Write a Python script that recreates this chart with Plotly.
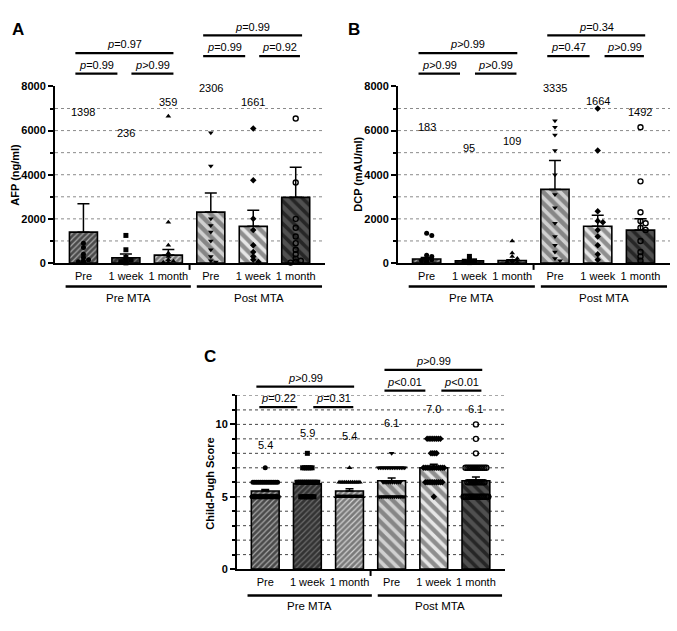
import plotly.graph_objects as go

W, H = 677, 631
FONT = "Liberation Sans, Arial, sans-serif"

# ---------------- data ----------------
categories = ["Pre", "1 week", "1 month", "Pre", "1 week", "1 month"]
groups = ["Pre MTA", "Post MTA"]

afp_mean = [1398, 236, 359, 2306, 1661, 2975]
afp_sem = [1282, 177, 250, 864, 729, 1365]
dcp_mean = [183, 95, 109, 3335, 1664, 1492]
dcp_sem = [70, 30, 40, 1315, 496, 518]
cp_mean = [5.4, 5.9, 5.4, 6.1, 7.0, 6.1]
cp_sem = [0.10, 0.12, 0.15, 0.20, 0.25, 0.27]

afp_pre = [900, 700, 400, 250, 150, 90, 60, 40, 20]
afp_1wk = [1250, 600, 250, 150, 100, 60, 40, 20, 10]
afp_1mo = [6650, 1850, 800, 450, 300, 150, 80, 40, 20, 10]
afp_post_pre = [5900, 4400, 2000, 1700, 1400, 1000, 600, 300, 100, 50]
afp_post_1wk = [6100, 3750, 2000, 1500, 800, 500, 300, 150, 50]
afp_post_1mo = [6550, 3650, 2000, 1600, 1200, 900, 600, 400, 200, 100, 50, 20]

dcp_pre = [1350, 1250, 350, 300, 200, 150, 100, 80, 60, 40, 20]
dcp_1wk = [300, 150, 100, 80, 50, 30, 20]
dcp_1mo = [1000, 450, 300, 200, 100, 60, 30, 10]
dcp_post_pre = [6450, 6150, 5800, 5100, 4000, 3100, 2500, 1800, 1200, 800, 500, 200, 100]
dcp_post_1wk = [7000, 5100, 2350, 1900, 1850, 1500, 1200, 800, 400, 150]
dcp_post_1mo = [6150, 3700, 2300, 1900, 1800, 1600, 1500, 1000, 500, 300, 100]

# Child-Pugh: score -> number of patients
cp_pre = {7: 1, 6: 14, 5: 30}
cp_1wk = {8: 1, 7: 6, 6: 12, 5: 8}
cp_1mo = {7: 1, 6: 12, 5: 30}
cp_post_pre = {8: 1, 7: 16, 6: 10, 5: 14}
cp_post_1wk = {9: 8, 8: 4, 7: 12, 6: 10, 5: 1}
cp_post_1mo = {10: 1, 9: 1, 8: 1, 7: 12, 6: 10, 5: 14}

afp_p = ["=0.97", "=0.99", ">0.99", "=0.99", "=0.99", "=0.92"]
dcp_p = [">0.99", ">0.99", ">0.99", "=0.34", "=0.47", ">0.99"]
cp_p = [">0.99", "=0.22", "=0.31", ">0.99", "&lt;0.01", "&lt;0.01"]

# ---------------- styling / layout ----------------
def py(p):
    return 1 - p / H

symbols = ["circle", "square", "triangle-up", "triangle-down", "diamond", "circle-open"]
bar_bg = ["#4a4a4a", "#333333", "#7a7a7a", "#868686", "#8e8e8e", "#505050"]
bar_fg = ["#a8a8a8", "#6c6c6c", "#d4d4d4", "#d0d0d0", "#e6e6e6", "#262626"]
bar_shape = ["/", "/", "/", "\\", "\\", "\\"]
bar_size = [4, 4, 4, 8, 8, 8]
bar_sol = [0.3, 0.3, 0.3, 0.45, 0.45, 0.45]

panels = [
    dict(name="A", mean=afp_mean, sem=afp_sem,
         pts=[afp_pre, afp_1wk, afp_1mo, afp_post_pre, afp_post_1wk, afp_post_1mo],
         pv=afp_p, title="AFP (ng/ml)", fmt="{:d}",
         xd=(55, 325), yd=(82, 262), yr=(0, 8000), dtick=2000, minor=1000,
         grid=[1000, 2000, 3000, 4000, 5000, 6000, 7000], gridcol="#8a8a8a",
         lab_y=[6850, 5900, 7300, 7950, 7300, 8270],
         letter=(18, 24), ttl=(15, 172),
         br=[(-0.19, 2.12, 48), (-0.19, 0.80, 69), (1.13, 2.12, 69),
             (2.82, 5.15, 30), (2.82, 3.81, 51), (4.14, 5.10, 51)],
         gl_y=286, glab_y=298),
    dict(name="B", mean=dcp_mean, sem=dcp_sem,
         pts=[dcp_pre, dcp_1wk, dcp_1mo, dcp_post_pre, dcp_post_1wk, dcp_post_1mo],
         pv=dcp_p, title="DCP (mAU/ml)", fmt="{:d}",
         xd=(398, 670), yd=(82, 262), yr=(0, 8000), dtick=2000, minor=1000,
         grid=[1000, 2000, 3000, 4000, 5000, 6000, 7000], gridcol="#8a8a8a",
         lab_y=[6180, 5200, 5510, 7950, 7330, 6840],
         letter=(354, 24), ttl=(358, 172),
         br=[(-0.19, 2.12, 48), (-0.19, 0.78, 69), (1.13, 2.10, 69),
             (2.82, 5.11, 30), (2.82, 3.81, 51), (4.16, 5.08, 51)],
         gl_y=286, glab_y=298),
    dict(name="C", mean=cp_mean, sem=cp_sem,
         pts=[cp_pre, cp_1wk, cp_1mo, cp_post_pre, cp_post_1wk, cp_post_1mo],
         pv=cp_p, title="Child-Pugh Score", fmt="{:.1f}",
         xd=(237, 505), yd=(397, 574), yr=(0, 12), dtick=5, minor=1,
         grid=list(range(1, 13)), gridcol="#444444",
         lab_y=[8.6, 9.4, 9.2, 10.1, 11.05, 11.05],
         letter=(210, 357), ttl=(210, 487),
         br=[(-0.21, 2.11, 388), (-0.14, 0.76, 409), (1.14, 2.09, 409),
             (2.83, 5.15, 371), (2.83, 3.80, 392), (4.18, 5.13, 392)],
         gl_y=601, glab_y=612),
]

XR = [-0.67, 5.69]


def swarm(vals, ypu, xpu, d=0.06, r=3.2, maxk=3):
    placed, offs = [], []
    for v in vals:
        yp = v * ypu
        cands = [0.0]
        for i in range(1, maxk + 1):
            cands += [i * d, -i * d]
        chosen = 0.0
        for c in cands:
            if all(not (abs(pv - yp) < r and abs(pc - c) * xpu < r) for pc, pv in placed):
                chosen = c
                break
        placed.append((chosen, yp))
        offs.append(chosen)
    return offs


fig = go.Figure()
shapes, annos = [], []
layout_axes = {}

for k, P in enumerate(panels):
    sfx = "" if k == 0 else str(k + 1)
    xa, ya = "x" + sfx, "y" + sfx
    x0, x1 = P["xd"]
    ytop, ybot = P["yd"]
    xpu = (x1 - x0) / (XR[1] - XR[0])
    ypu = (ybot - ytop) / (P["yr"][1] - P["yr"][0])

    for i in range(6):
        fig.add_trace(go.Bar(
            x=[i], y=[P["mean"][i]], width=0.66, xaxis=xa, yaxis=ya,
            marker=dict(color=bar_bg[i], line=dict(color="black", width=1.6),
                        pattern=dict(shape=bar_shape[i], fgcolor=bar_fg[i], bgcolor=bar_bg[i],
                                     fgopacity=1, size=bar_size[i], solidity=bar_sol[i],
                                     fillmode="replace")),
            error_y=dict(type="data", array=[P["sem"][i]], arrayminus=[0], symmetric=False,
                         color="black", thickness=1.5, width=6 if k < 2 else 4),
            showlegend=False, hoverinfo="skip"))

    for i, pts in enumerate(P["pts"]):
        if isinstance(pts, dict):
            xs, ys = [], []
            for score, n in pts.items():
                span = min(0.62, (n - 1) * 0.045)
                for j in range(n):
                    off = 0 if n == 1 else -span / 2 + span * j / (n - 1)
                    xs.append(i + off)
                    ys.append(score)
        else:
            offs = swarm(pts, ypu, xpu)
            xs = [i + o for o in offs]
            ys = pts
        fig.add_trace(go.Scatter(
            x=xs, y=ys, mode="markers", xaxis=xa, yaxis=ya, cliponaxis=False,
            marker=dict(symbol=symbols[i], size=5, color="black",
                        line=dict(color="black", width=1.4 if symbols[i] == "circle-open" else 0)),
            showlegend=False, hoverinfo="skip"))

    layout_axes["xaxis" + sfx] = dict(
        domain=[x0 / W, x1 / W], range=XR, anchor=ya, showline=True, linewidth=2,
        linecolor="black", ticks="", tickvals=list(range(6)), ticktext=categories,
        tickfont=dict(size=11, family=FONT, color="black"), ticklabelstandoff=2,
        showgrid=False, zeroline=False, fixedrange=True)
    layout_axes["yaxis" + sfx] = dict(
        domain=[1 - ybot / H, 1 - ytop / H], range=list(P["yr"]), anchor=xa,
        showline=True, linewidth=2, linecolor="black", ticks="outside", ticklen=5,
        tickwidth=2, tickcolor="black", tick0=0, dtick=P["dtick"],
        tickfont=dict(size=11, family=FONT, color="black", weight="bold"),
        minor=dict(dtick=P["minor"], ticks="outside", ticklen=3, tickwidth=1.5,
                   tickcolor="black", showgrid=False),
        showgrid=False, zeroline=False, fixedrange=True)

    for g in P["grid"]:
        shapes.append(dict(type="line", xref=xa + " domain", yref=ya, x0=0, x1=1, y0=g, y1=g,
                           line=dict(color=P["gridcol"], width=1, dash="dot"), layer="below"))
    shapes.append(dict(type="line", xref=xa, yref="paper", x0=2.5, x1=2.5,
                       y0=py(ybot), y1=py(ybot + 7), line=dict(color="black", width=2)))
    for (ga, gb), gname in zip([(-0.42, 2.53), (2.67, 5.62)], groups):
        shapes.append(dict(type="line", xref=xa, yref="paper", x0=ga, x1=gb,
                           y0=py(P["gl_y"]), y1=py(P["gl_y"]), line=dict(color="black", width=2.4)))
        annos.append(dict(x=(ga + gb) / 2, y=py(P["glab_y"]), xref=xa, yref="paper",
                          text=gname, showarrow=False, yanchor="middle",
                          font=dict(size=11.5, family=FONT, color="black")))
    for i, (m, ly) in enumerate(zip(P["mean"], P["lab_y"])):
        annos.append(dict(x=i, y=ly, xref=xa, yref=ya, text=P["fmt"].format(m),
                          showarrow=False, yanchor="middle",
                          font=dict(size=11, family=FONT, color="black")))
    for (ba, bb, by), ptxt in zip(P["br"], P["pv"]):
        shapes.append(dict(type="line", xref=xa, yref="paper", x0=ba, x1=bb,
                           y0=py(by), y1=py(by), line=dict(color="black", width=2.2)))
        annos.append(dict(x=(ba + bb) / 2, y=py(by - 9), xref=xa, yref="paper",
                          text="<i>p</i>" + ptxt, showarrow=False, yanchor="middle",
                          font=dict(size=11, family=FONT, color="black")))
    annos.append(dict(x=P["letter"][0] / W, y=py(P["letter"][1]), xref="paper", yref="paper",
                      text="<b>%s</b>" % P["name"], showarrow=False, xanchor="center",
                      yanchor="middle", font=dict(size=17, family=FONT, color="black")))
    annos.append(dict(x=P["ttl"][0] / W, y=py(P["ttl"][1]), xref="paper", yref="paper",
                      text="<b>%s</b>" % P["title"], showarrow=False, textangle=-90,
                      xanchor="center", yanchor="middle",
                      font=dict(size=11, family=FONT, color="black")))

fig.update_layout(
    width=W, height=H, margin=dict(l=0, r=0, t=0, b=0),
    paper_bgcolor="white", plot_bgcolor="white", barmode="overlay",
    shapes=shapes, annotations=annos, showlegend=False,
    font=dict(family=FONT, color="black"),
    **layout_axes)

fig.write_html("out.html", config={"displayModeBar": False},
               post_script="document.body.style.margin='0px';document.body.style.padding='0px';")
